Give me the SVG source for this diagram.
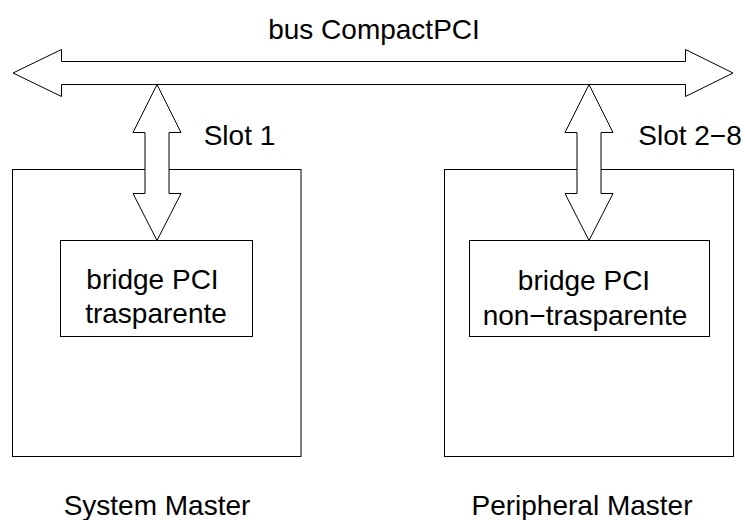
<svg xmlns="http://www.w3.org/2000/svg" width="745" height="520" viewBox="0 0 745 520">
<style>
.box{fill:#fff;stroke:#000;stroke-width:1}
.arr{fill:#fff;stroke:#000;stroke-width:1;stroke-linejoin:miter}
text{font-family:"Liberation Sans",Arial,sans-serif;font-size:28px;fill:#000;text-anchor:middle}
</style>
<rect width="745" height="520" fill="#fff"/>
<g id="system-master">
<rect class="box" x="12.5" y="169.5" width="288.5" height="287"/>
<text x="157" y="515">System Master</text>
</g>
<g id="bridge-trasparente">
<rect class="box" x="60.5" y="240.5" width="192" height="96"/>
<text x="152.5" y="289">bridge PCI</text>
<text x="156" y="323">trasparente</text>
</g>
<g id="peripheral-master">
<rect class="box" x="444.5" y="169.5" width="289" height="287"/>
<text x="582" y="515">Peripheral Master</text>
</g>
<g id="bridge-non-trasparente">
<rect class="box" x="469.5" y="240.5" width="240" height="96"/>
<text x="584" y="290">bridge PCI</text>
<text x="585" y="325">non−trasparente</text>
</g>
<g id="bus">
<polygon class="arr" points="13,73 61.5,49.5 61.5,61.5 685.5,61.5 685.5,49.5 733,73 685.5,96.5 685.5,84.5 61.5,84.5 61.5,96.5"/>
<text x="374" y="39">bus CompactPCI</text>
</g>
<g id="connectors">
<polygon class="arr" points="157,84.5 181,132.5 169,132.5 169,193.5 181,193.5 157,240.5 133,193.5 145,193.5 145,132.5 133,132.5"/>
<polygon class="arr" points="589,84.5 613,132.5 601,132.5 601,193.5 613,193.5 589,240.5 565,193.5 577,193.5 577,132.5 565,132.5"/>
<text x="239.5" y="145">Slot 1</text>
<text x="690" y="145">Slot 2−8</text>
</g>
</svg>
